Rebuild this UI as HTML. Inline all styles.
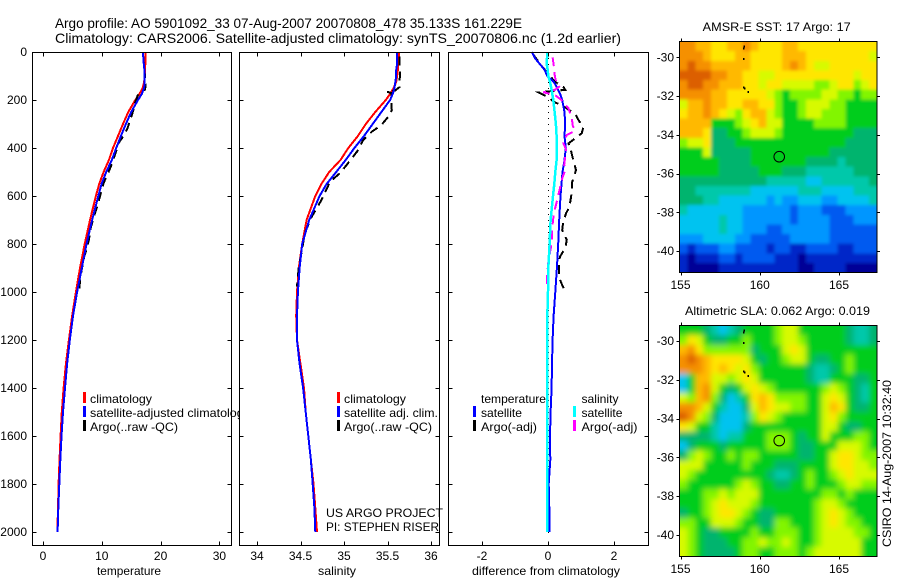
<!DOCTYPE html>
<html>
<head>
<meta charset="utf-8">
<title>Argo profile</title>
<style>
html,body{margin:0;padding:0;background:#fff;}
svg{display:block;}
text{font-family:"Liberation Sans",sans-serif;font-size:12px;fill:#000;}
</style>
</head>
<body>
<svg id="fig" xmlns="http://www.w3.org/2000/svg" width="900" height="580" viewBox="0 0 900 580">
<defs>
<filter id="blur-sst" filterUnits="userSpaceOnUse" x="650" y="10" width="250" height="290"><feGaussianBlur stdDeviation="1.6"/></filter>
<filter id="blur-sla" filterUnits="userSpaceOnUse" x="650" y="295" width="250" height="285"><feGaussianBlur stdDeviation="3"/></filter>
<clipPath id="clip-sst"><rect x="679.5" y="41.5" width="197.5" height="231"/></clipPath>
<clipPath id="clip-sla"><rect x="679.5" y="325.5" width="197.5" height="231"/></clipPath>
</defs>
<rect width="900" height="580" fill="#fff"/>
<text x="55" y="28" style="font-size:14px" textLength="467" lengthAdjust="spacingAndGlyphs">Argo profile: AO 5901092_33 07-Aug-2007 20070808_478 35.133S 161.229E</text>
<text x="55" y="43" style="font-size:14px" textLength="566" lengthAdjust="spacingAndGlyphs">Climatology: CARS2006. Satellite-adjusted climatology: synTS_20070806.nc (1.2d earlier)</text>
<g id="plots"></g>
<g id="maps"></g>
<text x="891" y="547" transform="rotate(-90 891 547)" textLength="167" lengthAdjust="spacingAndGlyphs">CSIRO 14-Aug-2007 10:32:40</text>
</svg>
<script>
const climDepth = [0,25,50,75,100,125,150,175,200,250,300,350,400,450,500,550,600,700,800,900,1000,1100,1200,1300,1400,1500,1600,1700,1800,1900,2000];
const tempClim = [17.45,17.45,17.4,17.35,17.3,17.2,16.95,16.4,15.7,14.5,13.6,12.75,11.9,11.2,10.3,9.55,9.0,8.0,7.1,6.3,5.6,4.95,4.4,3.9,3.5,3.2,3.0,2.8,2.65,2.55,2.45];
const tempSat = [17.0,17.05,17.15,17.25,17.28,17.3,17.2,16.8,16.15,15.0,14.1,13.25,12.45,11.7,10.75,9.95,9.4,8.35,7.4,6.6,5.8,5.1,4.55,4.1,3.75,3.4,3.15,2.95,2.78,2.6,2.48];
const salClim = [35.63,35.63,35.62,35.62,35.61,35.6,35.57,35.53,35.48,35.36,35.25,35.16,35.05,34.96,34.83,34.74,34.67,34.57,34.52,34.48,34.46,34.45,34.46,34.5,34.54,34.56,34.59,34.62,34.65,34.67,34.69];
const salSat = [35.61,35.61,35.61,35.6,35.6,35.59,35.58,35.56,35.53,35.43,35.33,35.23,35.12,35.02,34.91,34.8,34.72,34.6,34.52,34.49,34.47,34.46,34.46,34.49,34.53,34.56,34.59,34.62,34.64,34.66,34.67];
const diffTempSat = [-0.49,-0.4,-0.25,-0.1,-0.02,0.18,0.28,0.37,0.43,0.5,0.52,0.5,0.54,0.5,0.44,0.41,0.38,0.34,0.31,0.27,0.22,0.17,0.14,0.12,0.11,0.08,0.06,0.07,0.02,0.04,0.04];
const diffSalSat = [-0.02,-0.03,-0.04,-0.01,0.01,0.06,0.1,0.13,0.16,0.2,0.24,0.26,0.27,0.26,0.22,0.19,0.15,0.08,0.05,0.01,0,-0.02,-0.02,-0.02,-0.02,-0.02,-0.02,-0.02,-0.02,-0.02,-0.02];

const tempArgoDepth = [8,50,75,124,144,158,168,189,210,221,258,283,314,339,360,381,408,436,467,492,526,547,582,610,644,672,707,742,783,818,853,894,936,964,989];
const tempArgo = [17.0,17.16,17.26,17.41,17.46,17.3,16.26,16.0,15.66,15.6,15.17,14.82,14.42,13.97,13.4,12.82,12.5,12.14,11.7,11.3,10.67,10.3,9.92,9.6,9.2,8.85,8.4,8.03,7.8,7.47,7.0,6.68,6.38,6.26,6.19];
const diffTempArgo = [-0.46,-0.24,-0.09,0.21,0.46,0.52,-0.29,0.01,0.21,0.41,0.82,0.92,1.07,1.02,0.82,0.62,0.69,0.74,0.8,0.85,0.77,0.72,0.72,0.69,0.65,0.55,0.46,0.43,0.57,0.52,0.36,0.33,0.33,0.41,0.49];

const salArgoDepth = [19,89,147,161,165,172,200,242,269,304,332,367,415,471,506,540,617,686,755,839,894,936,978];
const salArgo = [35.636,35.644,35.636,35.586,35.49,35.55,35.54,35.55,35.51,35.43,35.32,35.22,35.15,35.03,34.95,34.84,34.74,34.63,34.55,34.51,34.48,34.47,34.46];
const diffSalArgoDepth = [22,61,103,130,144,158,168,179,200,235,276,308,328,346,378,408,436,471,494,522,568,617,672,728,790,874,922,985];
const diffSalArgo = [0.14,0.18,0.21,0.26,0.34,0.21,-0.14,0.21,0.41,0.62,0.72,0.75,0.82,0.57,0.46,0.55,0.52,0.49,0.52,0.44,0.36,0.28,0.18,0.13,0.12,0.01,-0.02,-0.04];

const depthTicks = [0,200,400,600,800,1000,1200,1400,1600,1800,2000];
const tempTicks = [0,10,20,30];
const salTicks = [34,34.5,35,35.5,36];
const salTickLabels = ['34','34.5','35','35.5','36'];
const diffTicks = [-2,0,2];
const mapLonTicks = [155,160,165];
const mapLatTicks = [-30,-32,-34,-36,-38,-40];

const levelColors = ['#000096','#0028c8','#005af0','#0096ff','#00c3f0','#00c8aa','#00b46e','#00cd1e','#82f500','#d7fa00','#ffe600','#ffb900','#f59000','#dc5f00'];

const sstGrid = [
[12,12,11,11,10,10,11,11,12,11,10,10,10,11,11,10,10,10,10,10,10,10,10,10,10],
[12,12,12,11,10,10,10,11,11,10,10,10,10,11,11,11,10,10,10,10,10,10,10,10,9],
[12,13,12,12,11,11,11,11,11,10,10,10,10,11,12,11,10,9,9,10,10,10,10,10,10],
[13,13,13,13,12,12,11,11,10,10,9,9,10,10,10,10,10,10,10,10,10,10,9,10,10],
[12,13,13,12,12,11,11,11,10,10,9,10,10,9,9,9,9,8,8,9,10,10,8,9,10],
[12,12,12,12,11,11,10,10,10,10,10,9,8,7,8,8,8,8,9,9,8,8,7,8,8],
[9,11,11,12,11,11,10,10,11,11,10,10,8,7,7,8,9,9,9,8,8,7,7,7,7],
[10,11,11,12,11,10,9,8,10,11,11,9,8,7,7,8,9,9,8,8,8,7,7,7,7],
[11,11,11,11,7,7,7,8,9,10,11,9,9,7,7,7,7,8,8,8,8,7,7,7,7],
[11,11,11,10,6,6,7,7,8,9,9,9,8,7,7,7,7,7,7,7,7,7,6,6,6],
[8,9,9,10,6,6,6,7,7,7,7,7,7,7,7,7,7,7,7,7,7,6,6,6,6],
[7,7,7,9,6,6,6,6,6,7,7,7,7,7,7,7,7,7,7,6,6,6,6,6,6],
[7,7,7,7,7,6,6,6,6,7,7,7,7,7,7,7,6,6,6,6,5,6,6,6,6],
[7,7,7,7,7,6,6,6,6,6,7,7,7,6,6,6,5,5,5,5,5,5,6,6,6],
[6,6,6,6,6,6,6,6,6,6,6,5,5,5,5,5,4,4,5,5,5,5,5,5,6],
[6,6,5,5,5,5,5,5,5,4,4,4,4,4,4,5,5,5,4,4,4,4,5,5,5],
[6,6,6,5,5,4,4,4,4,4,4,3,4,3,3,4,4,4,3,3,4,4,4,4,5],
[5,4,4,4,4,4,4,4,3,3,3,3,3,3,2,3,3,3,2,2,2,3,3,3,3],
[4,4,4,4,4,5,4,4,3,3,3,3,3,3,2,3,3,3,3,2,2,2,3,3,3],
[4,4,4,4,4,5,4,4,3,3,3,2,2,3,3,3,3,3,3,2,2,2,2,2,2],
[3,3,3,4,4,4,4,3,3,2,2,2,2,2,3,3,3,3,3,2,2,2,2,2,2],
[2,1,2,2,2,3,3,2,2,2,2,1,2,2,1,1,2,2,2,2,1,1,2,2,2],
[1,0,1,1,1,2,2,1,2,2,2,2,1,1,1,0,1,1,1,1,1,1,1,1,1],
[1,0,0,0,0,1,1,1,1,1,1,1,1,1,1,0,0,1,1,1,1,0,0,0,0]
];
const slaGrid = [
[7,7,7,6,5,4,5,6,7,7,7,7,8,9,9,7,7,7,7,7,7,6,5,5,6],
[8,10,9,7,6,6,7,7,8,7,7,7,8,9,9,8,7,7,7,7,7,6,5,5,6],
[11,12,10,8,8,8,8,8,8,6,7,7,7,9,10,9,7,7,7,7,7,7,7,7,7],
[12,13,12,11,10,10,10,10,9,7,6,7,7,8,9,9,7,6,6,7,7,8,7,7,7],
[12,12,12,11,10,11,10,9,10,8,7,7,7,7,7,7,6,5,5,6,7,8,7,7,7],
[4,7,11,11,9,9,8,9,10,9,7,7,7,7,7,7,6,5,5,7,7,7,6,6,7],
[4,7,11,12,9,7,6,7,9,10,9,8,7,7,7,7,7,7,8,9,8,7,6,5,7],
[9,8,11,12,8,6,4,5,7,10,11,10,8,8,8,8,7,7,9,10,9,7,6,5,7],
[12,12,11,9,7,5,4,4,6,9,11,10,9,9,8,8,7,7,9,11,10,7,6,6,7],
[13,12,9,8,6,4,4,4,5,8,10,9,8,7,7,7,7,7,9,10,8,7,7,7,7],
[10,9,7,7,5,4,4,4,6,7,7,7,7,7,7,7,7,7,9,9,7,6,6,7,7],
[6,6,6,6,5,4,5,5,7,7,7,8,8,8,7,6,7,7,9,7,7,7,8,8,7],
[4,6,7,7,7,6,7,7,7,7,7,8,8,8,7,6,6,7,7,7,9,9,9,8,7],
[6,8,9,8,7,7,8,7,8,8,7,7,7,7,7,6,6,7,7,9,10,10,9,8,8],
[9,9,9,7,7,7,7,7,8,7,7,7,6,6,6,7,7,7,7,9,10,10,9,9,8],
[9,8,7,7,7,7,7,7,7,7,7,6,5,5,6,7,8,7,7,8,9,10,9,9,9],
[8,7,7,7,7,7,7,8,9,8,7,7,6,6,7,7,8,7,7,7,8,9,9,8,8],
[7,7,7,8,8,9,8,9,9,9,7,7,7,7,7,7,7,7,8,8,7,8,7,7,7],
[7,7,7,8,9,10,9,9,9,8,7,7,7,7,7,7,7,8,9,9,8,7,7,7,7],
[6,7,7,8,9,10,10,9,8,7,6,6,7,7,7,7,7,8,9,10,9,8,7,7,7],
[8,8,7,7,9,9,9,8,7,7,6,6,8,8,7,7,7,8,9,10,9,8,8,7,7],
[9,8,7,6,6,7,7,7,7,8,7,7,8,8,8,7,7,8,9,9,9,9,8,8,7],
[9,8,7,6,6,6,7,7,8,8,9,8,8,9,8,7,7,8,9,9,9,9,9,7,7],
[9,8,7,6,6,6,6,7,8,8,7,7,8,8,8,7,8,9,9,9,9,9,9,7,7]
];
const coastLon = [158.98,158.94,158.94,158.94,159.0,159.23];
const coastLat = [-29.4,-29.5,-30.04,-31.5,-31.56,-31.74];
const floatLon = 161.229;
const floatLat = -35.133;

const NS = 'http://www.w3.org/2000/svg';
const plotsG = document.getElementById('plots');
const mapsG = document.getElementById('maps');

function mk(tag, parent, attrs, txt) {
  const e = document.createElementNS(NS, tag);
  for (const k in attrs) e.setAttribute(k, attrs[k]);
  if (txt !== undefined) e.textContent = txt;
  parent.appendChild(e);
  return e;
}
const yDepth = d => 52 + 0.24 * d;

function polyline(parent, name, depths, values, xf, color, width, dash) {
  const pts = depths.map((d, i) => xf(values[i]).toFixed(1) + ',' + yDepth(d).toFixed(1)).join(' ');
  const attrs = {points: pts, fill: 'none', stroke: color, 'stroke-width': width, 'shape-rendering': 'crispEdges'};
  if (dash) attrs['stroke-dasharray'] = dash;
  const el = mk('polyline', parent, attrs);
  
  
}

function label(parent, name, x, y, str, len, anchor) {
  const attrs = {x: x, y: y};
  if (anchor) attrs['text-anchor'] = anchor;
  if (len) { attrs.textLength = len; attrs.lengthAdjust = 'spacingAndGlyphs'; }
  const el = mk('text', parent, attrs, str);
  
  
  return el;
}

function swatch(parent, name, x, y, color) {
  const el = mk('rect', parent, {x: x - 1, y: y, width: 3, height: 11, fill: color});
  
  
}

function tickLine(parent, name, x1, y1, x2, y2) {
  const el = mk('line', parent, {x1: x1, y1: y1, x2: x2, y2: y2, stroke: '#000', 'stroke-width': 1, 'shape-rendering': 'crispEdges'});
  
  
}

function panel(name, left, right, xf, xTicks, xLabels, title, titleX, titleLen, showDepth) {
  const top = 52.5, bottom = 545.5;
  const g = mk('g', plotsG, {});
  
  
  const bg = mk('rect', g, {x: left, y: top, width: right - left, height: bottom - top, fill: '#fff'});
  
  
  return {g, draw: function () {
    const fr = mk('rect', g, {x: left, y: top, width: right - left, height: bottom - top, fill: 'none', stroke: '#000', 'stroke-width': 1, 'shape-rendering': 'crispEdges'});
    
    
    xTicks.forEach((t, i) => {
      const x = Math.round(xf(t)) + 0.5;
      tickLine(g, name + '-x-tick-bottom', x, bottom, x, bottom - 4);
      tickLine(g, name + '-x-tick-top', x, top, x, top + 4);
      label(g, name + '-x-tick-label', xf(t), 560, xLabels[i], null, 'middle');
    });
    depthTicks.forEach(d => {
      const y = Math.round(yDepth(d)) + 0.5;
      tickLine(g, name + '-y-tick-left', left, y, left + 4, y);
      tickLine(g, name + '-y-tick-right', right, y, right - 4, y);
      if (showDepth) label(g, name + '-y-tick-label', 27, yDepth(d) + 4, String(d), null, 'end');
    });
    label(g, name + '-x-axis-title', titleX, 575, title, titleLen, 'middle');
  }};
}

/* temperature panel */
const xT = v => 43 + 5.88 * v;
const p1 = panel('temperature-panel', 32.5, 231.5, xT, tempTicks, tempTicks.map(String), 'temperature', 129, 64, true);
polyline(p1.g, 'temperature-climatology-line', climDepth, tempClim, xT, '#ff0000', 2);
polyline(p1.g, 'temperature-argo-line', tempArgoDepth, tempArgo, xT, '#000000', 2, '9 6');
polyline(p1.g, 'temperature-satellite-line', climDepth, tempSat, xT, '#0000ff', 2);
swatch(p1.g, 'legend-climatology-swatch', 84, 392, '#ff0000');
swatch(p1.g, 'legend-satellite-swatch', 84, 406, '#0000ff');
swatch(p1.g, 'legend-argo-swatch', 84, 420, '#000000');
label(p1.g, 'legend-climatology', 90, 403, 'climatology', 62);
label(p1.g, 'legend-satellite-adjusted', 90, 417, 'satellite-adjusted climatology', 160);
label(p1.g, 'legend-argo', 90, 431, 'Argo(..raw -QC)', 88);
p1.draw();

/* salinity panel */
const xS = v => 257 + 87 * (v - 34);
const p2 = panel('salinity-panel', 239.5, 439.5, xS, salTicks, salTickLabels, 'salinity', 337, 38, false);
polyline(p2.g, 'salinity-climatology-line', climDepth, salClim, xS, '#ff0000', 2);
polyline(p2.g, 'salinity-argo-line', salArgoDepth, salArgo, xS, '#000000', 2, '9 6');
polyline(p2.g, 'salinity-satellite-line', climDepth, salSat, xS, '#0000ff', 2);
swatch(p2.g, 'legend-climatology-swatch', 338, 392, '#ff0000');
swatch(p2.g, 'legend-satellite-swatch', 338, 406, '#0000ff');
swatch(p2.g, 'legend-argo-swatch', 338, 420, '#000000');
label(p2.g, 'legend-climatology', 344, 403, 'climatology', 62);
label(p2.g, 'legend-satellite-adj', 344, 417, 'satellite adj. clim.', 94);
label(p2.g, 'legend-argo', 344, 431, 'Argo(..raw -QC)', 88);
label(p2.g, 'project-name', 326, 517, 'US ARGO PROJECT', 117);
label(p2.g, 'principal-investigator', 326, 531, 'PI: STEPHEN RISER', 113);
p2.draw();

/* difference panel */
const xD = v => 548 + 33 * v;
const p3 = panel('difference-panel', 448.5, 648.5, xD, diffTicks, diffTicks.map(String), 'difference from climatology', 546, 148, false);
const zeroLine = mk('line', p3.g, {x1: 548.5, y1: 52, x2: 548.5, y2: 538, stroke: '#000', 'stroke-width': 1, 'stroke-dasharray': '1 5', 'shape-rendering': 'crispEdges'});


polyline(p3.g, 'difference-temperature-argo-line', tempArgoDepth, diffTempArgo, xD, '#000000', 2, '9 6');
polyline(p3.g, 'difference-temperature-satellite-line', climDepth, diffTempSat, xD, '#0000ff', 2);
polyline(p3.g, 'difference-salinity-argo-line', diffSalArgoDepth, diffSalArgo, xD, '#ff00ff', 2, '9 6');
polyline(p3.g, 'difference-salinity-satellite-line', climDepth, diffSalSat, xD, '#00ffff', 2.5);
label(p3.g, 'legend-temperature-heading', 481, 403, 'temperature', 65);
label(p3.g, 'legend-salinity-heading', 581.5, 403, 'salinity', 37);
swatch(p3.g, 'legend-temperature-satellite-swatch', 474, 406, '#0000ff');
swatch(p3.g, 'legend-temperature-argo-swatch', 474, 420, '#000000');
swatch(p3.g, 'legend-salinity-satellite-swatch', 574, 406, '#00ffff');
swatch(p3.g, 'legend-salinity-argo-swatch', 574, 420, '#ff00ff');
label(p3.g, 'legend-temperature-satellite', 481, 417, 'satellite', 41);
label(p3.g, 'legend-temperature-argo', 481, 431, 'Argo(-adj)', 56);
label(p3.g, 'legend-salinity-satellite', 581.5, 417, 'satellite', 41);
label(p3.g, 'legend-salinity-argo', 581.5, 431, 'Argo(-adj)', 56);
p3.draw();

/* maps */
function drawMap(name, grid, top, bottom, lat30Y, clipId, blurId, titleStr, titleX, titleY, titleLen, xLabelY) {
  const left = 679.5, right = 877;
  const g = mk('g', mapsG, {});
  
  
  const xLon = v => 680.5 + 15.85 * (v - 155);
  const yLat = v => lat30Y + 19.37 * (-30 - v);
  const cols = grid[0].length, rows = grid.length;
  const cw = (right - left) / cols, ch = (bottom - top) / rows;
  const clipG = mk('g', g, {'clip-path': 'url(#' + clipId + ')'});
  
  
  const cellG = mk('g', clipG, {filter: 'url(#' + blurId + ')'});
  
  
  grid.forEach((row, r) => {
    row.forEach((v, c) => {
      const padL = c === 0 ? 10 : 0, padT = r === 0 ? 10 : 0;
      const padR = c === cols - 1 ? 10 : 0, padB = r === rows - 1 ? 10 : 0;
      const cell = mk('rect', cellG, {x: (left + c * cw - padL).toFixed(2), y: (top + r * ch - padT).toFixed(2), width: (cw + 0.6 + padL + padR).toFixed(2), height: (ch + 0.6 + padT + padB).toFixed(2), fill: levelColors[v], 'shape-rendering': 'crispEdges'});
      
      
    });
  });
  coastLon.forEach((lon, i) => {
    const m = mk('rect', g, {x: xLon(lon).toFixed(1), y: yLat(coastLat[i]).toFixed(1), width: 1.5, height: 2, fill: '#000', 'shape-rendering': 'crispEdges'});
    
    
  });
  const circle = mk('circle', g, {cx: xLon(floatLon), cy: yLat(floatLat), r: 5.3, fill: 'none', stroke: '#000', 'stroke-width': 1});
  
  
  const fr = mk('rect', g, {x: left, y: top, width: right - left, height: bottom - top, fill: 'none', stroke: '#000', 'stroke-width': 1, 'shape-rendering': 'crispEdges'});
  
  
  mapLonTicks.forEach(t => {
    const x = Math.round(xLon(t)) + 0.5;
    tickLine(g, name + '-lon-tick-top', x, top, x, top - 3);
    tickLine(g, name + '-lon-tick-bottom', x, bottom, x, bottom + 3);
    label(g, name + '-lon-tick-label', xLon(t), xLabelY, String(t), null, 'middle');
  });
  mapLatTicks.forEach(t => {
    const y = Math.round(yLat(t)) + 0.5;
    tickLine(g, name + '-lat-tick-left', left, y, left - 3, y);
    tickLine(g, name + '-lat-tick-right', right, y, right + 3, y);
    label(g, name + '-lat-tick-label', 674, yLat(t) + 4, String(t), null, 'end');
  });
  label(g, name + '-title', titleX, titleY, titleStr, titleLen);
}
drawMap('sst-map', sstGrid, 41.5, 272.5, 57.3, 'clip-sst', 'blur-sst', 'AMSR-E SST: 17 Argo: 17', 702.7, 31, 148, 289);
drawMap('sla-map', slaGrid, 325.5, 556.5, 341.2, 'clip-sla', 'blur-sla', 'Altimetric SLA: 0.062 Argo: 0.019', 685, 315, 185, 573);
</script>
</body>
</html>
